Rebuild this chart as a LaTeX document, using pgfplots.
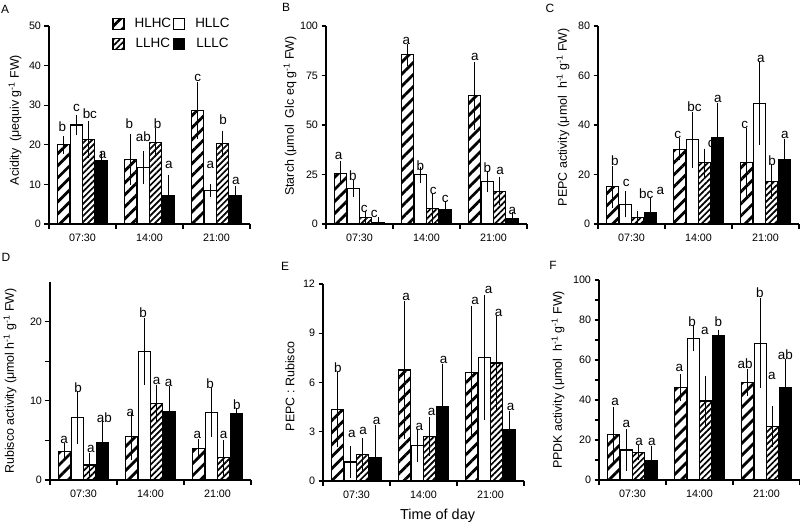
\documentclass[border=0pt]{standalone}
\usepackage{pgfplots}
\pgfplotsset{compat=1.18}
\usepackage{pgfplotstable}
\usepackage{fontspec}
\setmainfont{Liberation Sans}
\usetikzlibrary{patterns.meta}

% ---------------- data ----------------
\pgfplotstableread{
x HLHC eHLHC HLLC eHLLC LLHC eLLHC LLLC eLLLC
0 20.0 1.0 25.0 1.3 21.4 3.4 16.1 0.9
1 16.3 5.1 14.2 2.9 20.6 2.5 7.3 3.8
2 28.6 5.9 8.5 0.3 20.3 2.0 7.3 1.0
}\dataA
\pgfplotstableread{
x HLHC eHLHC HLLC eHLLC LLHC eLLHC LLLC eLLLC
0 25.7 3.7 18.0 1.7 3.4 0.5 0.8 0.2
1 85.4 3.2 24.9 1.5 7.9 5.2 7.2 2.0
2 64.7 14.6 21.3 2.7 16.6 4.7 3.0 0.4
}\dataB
\pgfplotstableread{
x HLHC eHLHC HLLC eHLLC LLHC eLLHC LLLC eLLLC
0 15.0 6.4 8.0 3.3 2.8 0.3 4.6 3.7
1 30.2 2.5 34.0 9.4 24.8 3.6 35.1 11.8
2 24.8 11.9 48.8 14.7 17.3 5.0 26.0 6.4
}\dataC
\pgfplotstableread{
x HLHC eHLHC HLLC eHLLC LLHC eLLHC LLLC eLLLC
0 3.6 0.4 7.9 2.7 1.9 0.9 4.75 2.1
1 5.5 2.3 16.25 3.6 9.7 1.7 8.7 2.5
2 4.0 0.5 8.55 2.45 2.8 1.6 8.35 0.1
}\dataD
\pgfplotstableread{
x HLHC eHLHC HLLC eHLLC LLHC eLLHC LLLC eLLLC
0 4.36 2.0 1.16 0.65 1.61 0.7 1.43 1.67
1 6.76 3.9 2.16 0.7 2.73 0.88 4.52 2.3
2 6.62 3.75 7.54 3.5 7.19 2.55 3.14 0.8
}\dataE
\pgfplotstableread{
x HLHC eHLHC HLLC eHLLC LLHC eLLHC LLLC eLLLC
0 22.8 11.3 15.0 7.8 13.7 1.3 9.7 5.0
1 46.3 4.2 70.8 4.0 39.5 9.8 72.0 0.5
2 48.7 4.3 68.3 20.0 26.7 7.8 46.2 11.8
}\dataF

% significance letters: x y text
\pgfplotstableread{
x y t
-0.30 24.6 b
-0.09 29.2 c
0.11 27.9 bc
0.30 17.4 a
0.70 25.4 b
0.91 22.1 ab
1.12 25.4 b
1.29 14.9 a
1.72 36.8 c
1.91 14.9 a
2.10 26.3 b
2.29 10.9 a
}\letA
\pgfplotstableread{
x y t
-0.31 34.5 a
-0.10 24.4 b
0.07 7.6 c
0.22 5.0 c
0.70 92.4 a
0.91 29.7 b
1.10 16.8 c
1.28 12.6 c
1.72 84.5 a
1.91 28.6 b
2.10 26.6 a
2.28 6.7 a
}\letB
\pgfplotstableread{
x y t
-0.25 25.7 b
-0.08 16.4 c
0.22 12.3 bc
0.43 13.4 a
0.69 35.8 c
0.94 47.5 bc
1.19 32.2 c
1.29 50.5 a
1.69 40.2 c
1.93 66.6 a
2.10 25.7 b
2.29 35.8 a
}\letC
\pgfplotstableread{
x y t
-0.29 5.0 a
-0.08 11.6 b
0.11 3.9 a
0.31 7.9 ab
0.70 8.5 a
0.89 21.1 b
1.09 12.5 a
1.27 12.2 a
1.70 5.7 a
1.89 12.1 b
2.09 5.7 a
2.29 9.5 b
}\letD
\pgfplotstableread{
x y t
-0.28 6.93 b
-0.07 2.85 a
0.10 3.06 a
0.30 3.63 a
0.74 11.19 a
0.94 3.30 a
1.12 4.18 a
1.30 7.38 a
1.77 10.94 a
1.97 11.61 a
2.12 10.23 a
2.30 4.52 a
}\letE
\pgfplotstableread{
x y t
-0.26 39.2 a
-0.09 27.8 a
0.10 19.2 a
0.29 19.2 a
0.70 55.8 a
0.89 79.2 b
1.08 74.5 a
1.28 79.2 b
1.68 58.3 ab
1.90 93.7 b
2.08 52.0 a
2.28 62.5 ab
}\letF

\pgfplotsset{
  panel/.style={
    scale only axis, width=201bp, height=198bp,
    axis lines*=left,
    axis line style={line width=1.4bp},
    xmin=-0.5, xmax=2.5, ymin=0,
    xtick={0,1,2}, xticklabels={07:30,14:00,21:00},
    minor xtick={-0.5,0.5,1.5,2.5},
    major x tick style={draw=none},
    tick align=outside,
    major tick length=4.5bp, minor tick length=4.5bp,
    tick style={black, line width=1.2bp},
    ticklabel style={font=\fontsize{10.8}{12}\selectfont},
    xticklabel style={yshift=-2bp},
    /pgf/number format/assume math mode=true,
    ylabel style={font=\fontsize{12.5}{14}\selectfont, anchor=center},
    ybar, bar width=0.185,
    legend image code/.code={\draw[##1] (0bp,-5.5bp) rectangle (11bp,5.5bp);},
  },
  eb/.style={error bars/y dir=both, error bars/y explicit,
    error bars/error bar style={line width=1.2bp, black},
    error bars/error mark options={black, line width=1.2bp, mark size=5bp}},
  s1/.style={draw=black, line width=1.1bp, pattern={Lines[angle=45,distance=8.5bp,line width=2.8bp]}, bar shift=-0.28, eb},
  s2/.style={draw=black, line width=1.1bp, fill=white, bar shift=-0.093, eb},
  s3/.style={draw=black, line width=1.1bp, pattern={Lines[angle=45,distance=4.3bp,line width=1.7bp]}, bar shift=0.093, eb},
  s4/.style={draw=black, line width=1.1bp, fill=black, bar shift=0.28, eb},
  lets/.style={draw=none, fill=none, bar shift=0, forget plot, nodes near coords, point meta=explicit symbolic,
    every node near coord/.append style={anchor=center, inner sep=0pt, font=\fontsize{13.5}{15}\selectfont}},
}

\newcommand{\bars}[1]{%
  \addplot[s1] table[x=x, y=HLHC, y error=eHLHC] {#1};
  \addplot[s2] table[x=x, y=HLLC, y error=eHLLC] {#1};
  \addplot[s3] table[x=x, y=LLHC, y error=eLLHC] {#1};
  \addplot[s4] table[x=x, y=LLLC, y error=eLLLC] {#1};
}

\begin{document}
\begin{tikzpicture}
\path[use as bounding box] (0,0) rectangle (800bp,-524bp);

% A
\begin{axis}[panel, at={(49bp,-224bp)}, anchor=south west,
  ymax=50, ytick={0,10,...,50},
  ylabel={Acidity~~(μequiv g\textsuperscript{-1} FW)},
  ylabel style={at={(axis description cs:-0.169,0.525)}},
  legend style={at={(axis description cs:0.30,1.06)}, anchor=north west, draw=none, fill=none,
    legend columns=2, font=\fontsize{13.5}{15}\selectfont, row sep=5bp,
    /tikz/every even column/.append style={column sep=0bp},
    /tikz/every odd column/.append style={column sep=8bp}},
]
\bars{\dataA}
\legend{HLHC,HLLC,LLHC,LLLC}
\addplot[lets] table[x=x,y=y,meta=t] {\letA};
\end{axis}

% B
\begin{axis}[panel, at={(326bp,-224bp)}, anchor=south west,
  ymax=100, ytick={0,25,...,100},
  ylabel={Starch (μmol~~Glc eq g\textsuperscript{-1} FW)},
  ylabel style={at={(axis description cs:-0.179,0.545)}},
]
\bars{\dataB}
\addplot[lets] table[x=x,y=y,meta=t] {\letB};
\end{axis}

% C
\begin{axis}[panel, at={(598bp,-224bp)}, anchor=south west,
  ymax=80, ytick={0,20,...,80},
  ylabel={PEPC activity (μmol~~h\textsuperscript{-1} g\textsuperscript{-1} FW)},
  ylabel style={at={(axis description cs:-0.174,0.54)}},
]
\bars{\dataC}
\addplot[lets] table[x=x,y=y,meta=t] {\letC};
\end{axis}

% D
\begin{axis}[panel, at={(50bp,-480bp)}, anchor=south west,
  ymax=25, ytick={0,10,20}, minor ytick={5,15},
  ylabel={Rubisco activity (μmol h\textsuperscript{-1} g\textsuperscript{-1} FW)},
  ylabel style={at={(axis description cs:-0.199,0.5)}},
]
\bars{\dataD}
\addplot[lets] table[x=x,y=y,meta=t] {\letD};
\end{axis}

% E
\begin{axis}[panel, at={(323bp,-481bp)}, anchor=south west, height=197bp,
  ymax=12, ytick={0,3,...,12},
  ylabel={PEPC : Rubisco},
  ylabel style={at={(axis description cs:-0.164,0.48)}},
  xlabel={Time of day},
  xlabel style={at={(axis description cs:0.57,-0.178)}, anchor=center, font=\fontsize{14.5}{16}\selectfont},
]
\bars{\dataE}
\addplot[lets] table[x=x,y=y,meta=t] {\letE};
\end{axis}

% F
\begin{axis}[panel, at={(599bp,-480bp)}, anchor=south west, height=200bp,
  ymax=100, ytick={0,20,...,100}, minor ytick={10,30,...,90},
  ylabel={PPDK activity (μmol~~h\textsuperscript{-1} g\textsuperscript{-1} FW)},
  ylabel style={at={(axis description cs:-0.204,0.5)}},
]
\bars{\dataF}
\addplot[lets] table[x=x,y=y,meta=t] {\letF};
\end{axis}

\node[font=\fontsize{12}{14}\selectfont] at (5bp,-9.5bp) {A};
\node[font=\fontsize{12}{14}\selectfont] at (286bp,-7.5bp) {B};
\node[font=\fontsize{12}{14}\selectfont] at (550bp,-8bp) {C};
\node[font=\fontsize{12}{14}\selectfont] at (6bp,-257bp) {D};
\node[font=\fontsize{12}{14}\selectfont] at (285bp,-266bp) {E};
\node[font=\fontsize{12}{14}\selectfont] at (553bp,-265bp) {F};
\end{tikzpicture}
\end{document}
